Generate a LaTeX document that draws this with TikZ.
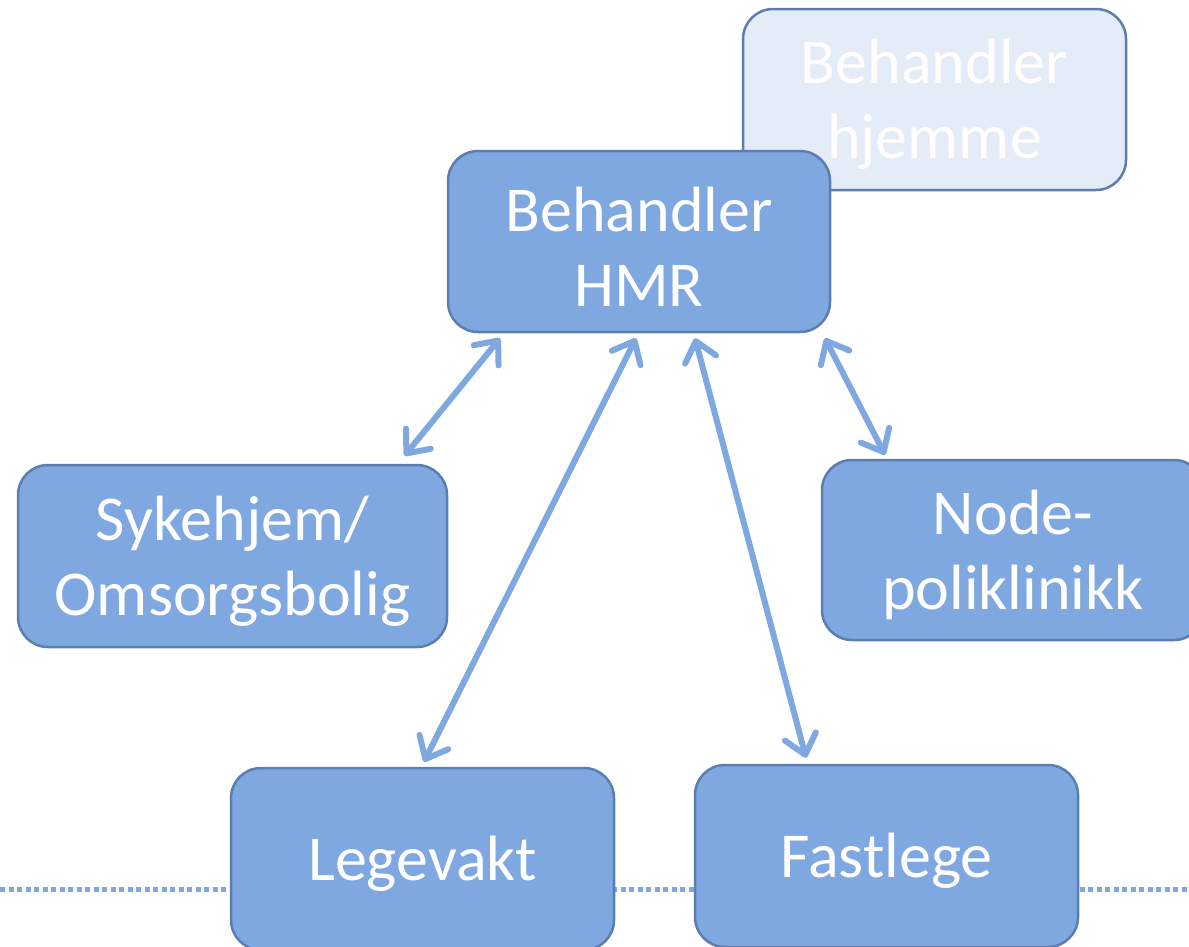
\documentclass[tikz,border=0pt]{standalone}
\usepackage{fontspec}
\setmainfont{Carlito}
\usetikzlibrary{arrows.meta,calc}
\definecolor{boxfill}{HTML}{7FA8E0}
\definecolor{boxedge}{HTML}{5B7DB0}
\definecolor{fadefill}{HTML}{E4ECF7}
\definecolor{linkcol}{HTML}{7FA8E0}
\tikzset{
  box/.style={draw=boxedge, line width=2.5pt, fill=boxfill, rounded corners=30pt,
    text=white, align=center, inner sep=0pt,
    font=\fontsize{64}{75}\selectfont},
  fadebox/.style={box, fill=fadefill},
  link/.style={draw=linkcol, line width=6pt, line cap=round,
    {Straight Barb[length=19pt,width=32pt,round]}-{Straight Barb[length=19pt,width=32pt,round]}},
  sep/.style={draw=linkcol, line width=5pt, dash pattern=on 5pt off 3.5pt}
}
\begin{document}
\begin{tikzpicture}[x=1pt,y=-1pt]
\clip (0,0) rectangle (1189,946);
\coordinate (L) at (0,889);
\coordinate (R) at (1189,889);
\draw[sep] (L) -- (R);
\node[fadebox, minimum width=383pt, minimum height=181pt] (hjemme) at (934.5,99.5) {\rule{0pt}{54pt}Behandler\\hjemme};
\node[box, minimum width=382pt, minimum height=181pt] (hmr) at (639,241.5) {\rule{0pt}{54pt}Behandler\\HMR};
\node[box, minimum width=429pt, minimum height=182pt] (syk) at (232.5,556) {\rule{0pt}{54pt}Sykehjem/\\Omsorgsbolig};
\node[box, minimum width=382pt, minimum height=180pt] (node) at (1013,550) {\rule{0pt}{54pt}Node-\\poliklinikk};
\node[box, minimum width=383pt, minimum height=182pt] (lege) at (422.5,859) {\rule{0pt}{54pt}Legevakt};
\node[box, minimum width=383pt, minimum height=182pt] (fast) at (886.5,856) {\rule{0pt}{54pt}Fastlege};
\draw[link] ($(hmr.south)+(-139,5)$) -- ($(syk.north)+(172,-8)$);
\draw[link] ($(hmr.south)+(-3,5)$) -- ($(lege.north)+(1.5,-5)$);
\draw[link] ($(hmr.south)+(56,5)$) -- ($(fast.north)+(-80.5,-6)$);
\draw[link] ($(hmr.south)+(186,5)$) -- ($(node.north)+(-128,-4)$);
\end{tikzpicture}
\end{document}
